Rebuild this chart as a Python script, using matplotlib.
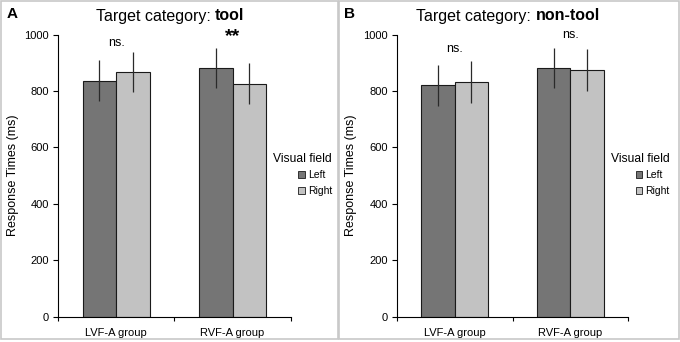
import matplotlib.pyplot as plt
import numpy as np
from matplotlib.patches import Rectangle

plt.rcParams['font.family'] = ['Liberation Sans', 'DejaVu Sans']

# data
groups = ['LVF-A group', 'RVF-A group']
fields = ['Left', 'Right']
tool_left = [837, 882]
tool_right = [868, 826]
tool_left_err = [72, 71]
tool_right_err = [72, 73]
nontool_left = [820, 882]
nontool_right = [831, 874]
nontool_left_err = [73, 72]
nontool_right_err = [74, 75]
tool_sig = ['ns.', '**']
tool_sig_y = [972, 993]
nontool_sig = ['ns.', 'ns.']
nontool_sig_y = [949, 999]

dark = '#757575'
light = '#c2c2c2'

W, H = 680, 342
fig = plt.figure(figsize=(W / 100, H / 100), dpi=100)


def px(x0, y0, x1, y1):
    # pixel box (top-left origin) to figure fraction
    return [x0 / W, 1 - y1 / H, (x1 - x0) / W, (y1 - y0) / H]


# panel frames
for x0, x1 in [(1, 338), (339, 679)]:
    fig.patches.append(Rectangle((x0 / W, 1 - 339 / H), (x1 - x0) / W, 338 / H,
                                 transform=fig.transFigure, fill=False,
                                 edgecolor='#c8c8c8', linewidth=1.2))


def panel(rect, left, right, lerr, rerr, sig, sig_y, title_bold, letter,
          letter_x, title_cx):
    ax = fig.add_axes(rect)
    x = np.arange(len(groups)) + 0.5
    w = 0.288
    ax.bar(x - w / 2, left, w, color=dark, edgecolor='#1a1a1a', linewidth=0.8,
           label=fields[0], zorder=2)
    ax.bar(x + w / 2, right, w, color=light, edgecolor='#1a1a1a', linewidth=0.8,
           label=fields[1], zorder=2)
    ax.errorbar(x - w / 2, left, yerr=lerr, fmt='none', ecolor='#2a2a2a',
                elinewidth=0.9, capsize=0, zorder=3)
    ax.errorbar(x + w / 2, right, yerr=rerr, fmt='none', ecolor='#2a2a2a',
                elinewidth=0.9, capsize=0, zorder=3)
    for xi, s, yi in zip(x, sig, sig_y):
        if s == '**':
            ax.text(xi, yi, s, ha='center', va='center', fontsize=14,
                    fontweight='bold')
        else:
            ax.text(xi, yi, s, ha='center', va='center', fontsize=9)

    ax.set_xlim(0, 2)
    ax.set_ylim(0, 1000)
    ax.set_yticks(np.arange(0, 1001, 200))
    ax.set_xticks([0, 1, 2])
    ax.set_xticklabels([])
    ax.set_xticks(x, minor=True)
    ax.set_xticklabels(groups, minor=True)
    ax.tick_params(axis='x', which='minor', length=0, pad=8, labelsize=8)
    ax.tick_params(axis='x', which='major', length=3, width=0.8)
    ax.tick_params(axis='y', length=3.5, width=0.8, pad=3, labelsize=8)
    for s in ['top', 'right']:
        ax.spines[s].set_visible(False)
    for s in ['left', 'bottom']:
        ax.spines[s].set_linewidth(0.8)
    ax.set_ylabel('Response Times (ms)', fontsize=9, labelpad=4)

    # title in two parts: regular + bold, centred as one string
    t1 = fig.text(0, 1 - 16 / H, 'Target category: ', ha='left', va='center',
                  fontsize=11.5)
    t2 = fig.text(0, 1 - 16 / H, title_bold, ha='left', va='center',
                  fontsize=11.5, fontweight='bold')
    fig.canvas.draw()
    w1 = t1.get_window_extent().width
    w2 = t2.get_window_extent().width
    x0 = title_cx - (w1 + w2) / 2
    t1.set_x(x0 / W)
    t2.set_x((x0 + w1) / W)

    fig.text(letter_x / W, 1 - 14 / H, letter, fontsize=11, fontweight='bold',
             ha='left', va='center')

    leg = ax.legend(title='Visual field', loc='upper right',
                    bbox_to_anchor=(1.2, 0.6), frameon=False, fontsize=7.5,
                    title_fontsize=8.7, handlelength=0.6, handleheight=0.6,
                    handletextpad=0.3, labelspacing=0.55, alignment='right',
                    borderpad=0)
    for h in leg.legend_handles:
        h.set_linewidth(0.6)
    return ax


panel(px(58, 34.7, 290.7, 316.7), tool_left, tool_right, tool_left_err,
      tool_right_err, tool_sig, tool_sig_y, 'tool', 'A', 7, 170)
panel(px(396.7, 34.7, 628.3, 316.7), nontool_left, nontool_right,
      nontool_left_err, nontool_right_err, nontool_sig, nontool_sig_y,
      'non-tool', 'B', 344, 508)

plt.savefig('out.png', dpi=100)
